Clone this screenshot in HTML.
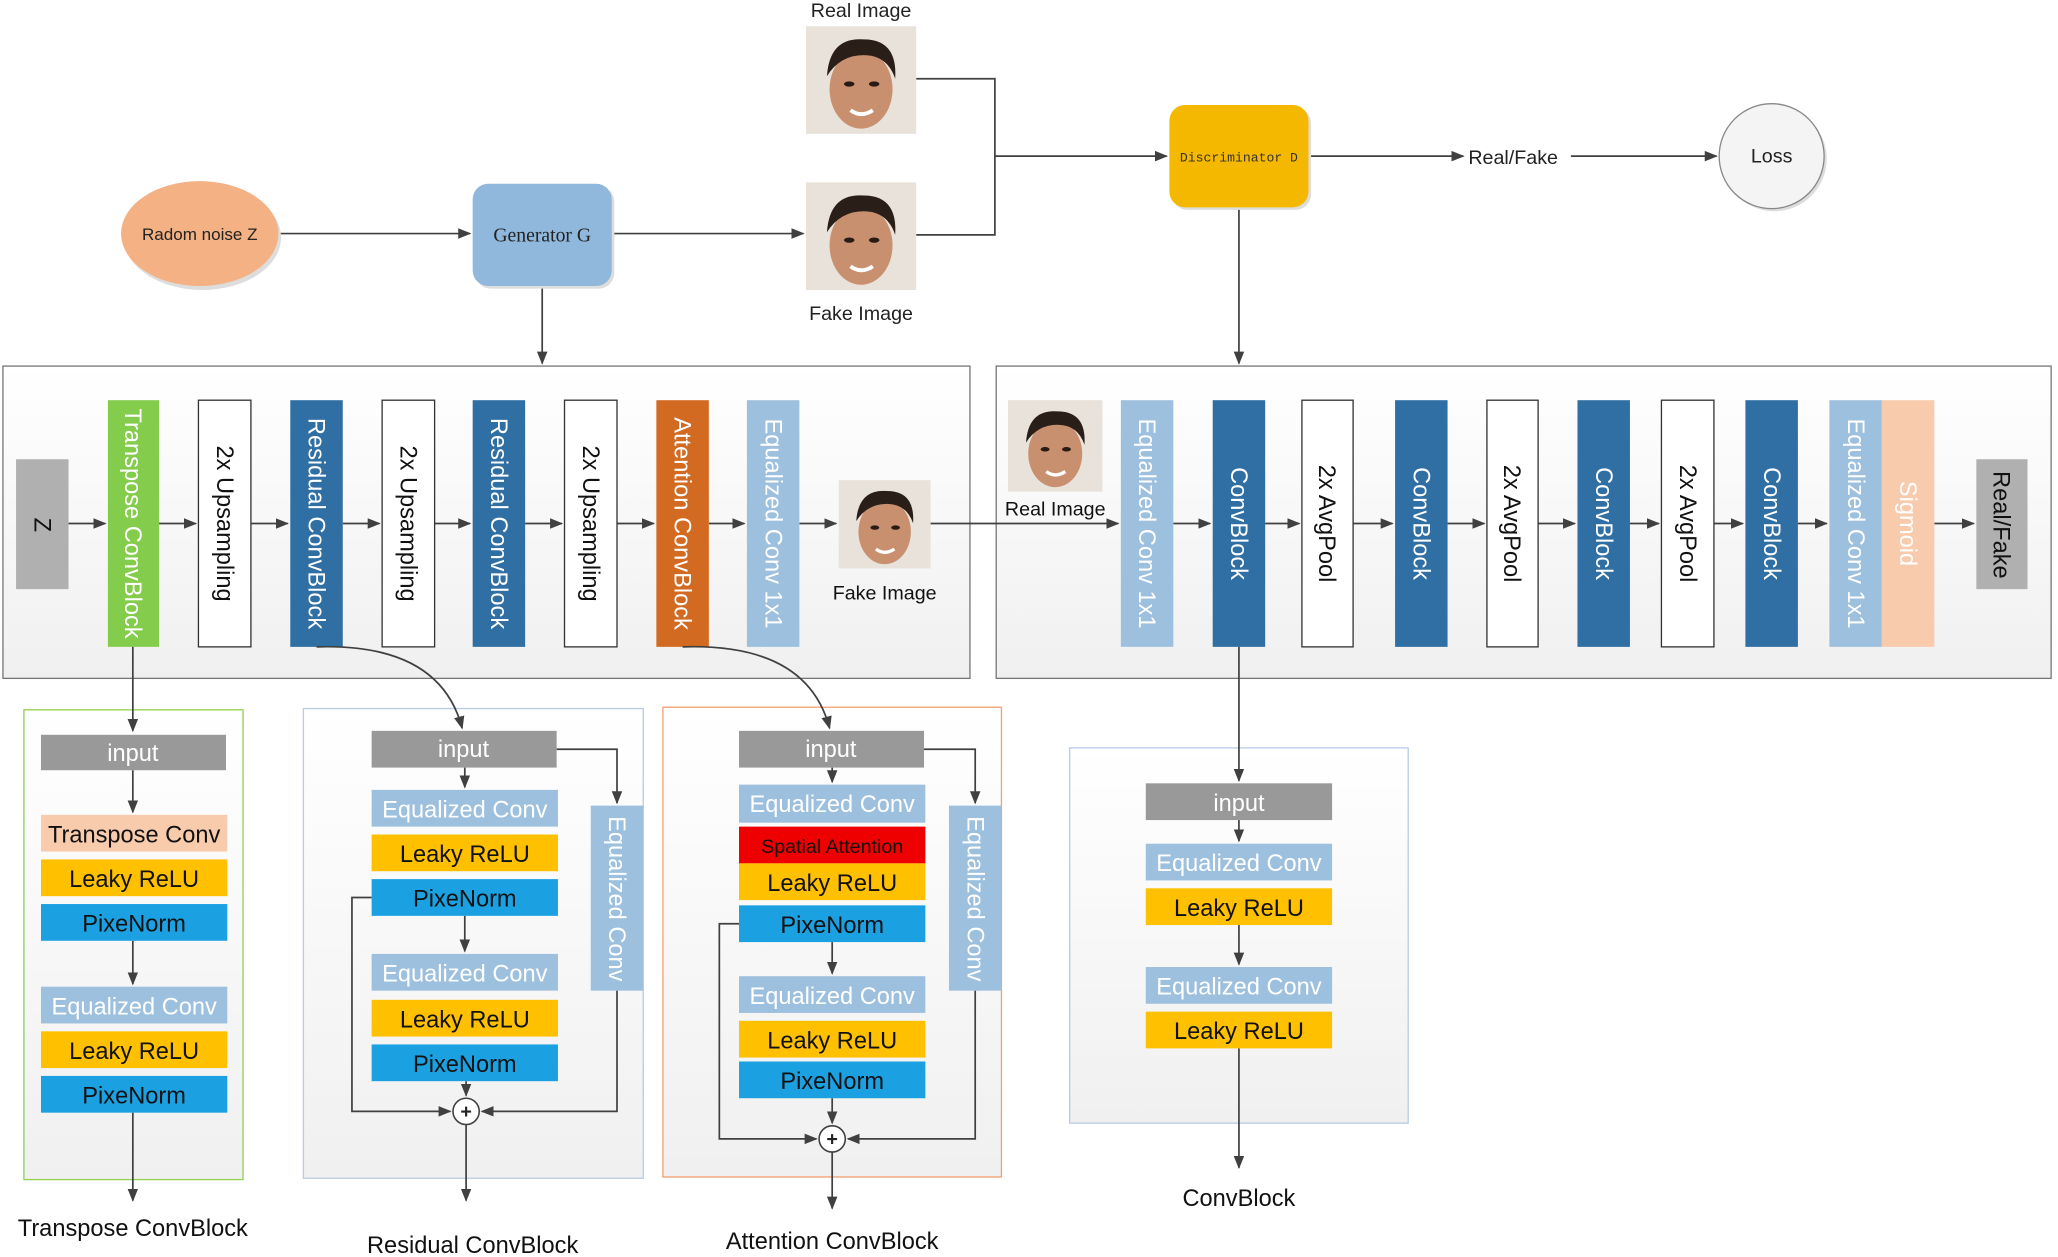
<!DOCTYPE html>
<html><head><meta charset="utf-8"><style>
html,body{margin:0;padding:0;background:#fff;}
svg{display:block;}
text{font-family:"Liberation Sans",sans-serif;}
</style></head><body>
<svg width="2058" height="1257" viewBox="0 0 1568 958" xmlns="http://www.w3.org/2000/svg">
<defs>
<marker id="a" markerWidth="10" markerHeight="10" refX="9" refY="5" orient="auto" markerUnits="userSpaceOnUse"><path d="M0,1 L10,5 L0,9 Z" fill="#404040"/></marker>
<linearGradient id="pg" x1="0" y1="0" x2="0" y2="1"><stop offset="0" stop-color="#ffffff"/><stop offset="1" stop-color="#f0f0f0"/></linearGradient>
<g id="face">
<rect x="0" y="0" width="84" height="82" fill="#e8e2da"/>
<ellipse cx="42" cy="48" rx="24" ry="30" fill="#c99070"/>
<path d="M16,38 Q18,8 44,10 Q70,10 68,40 Q62,22 44,22 Q26,22 16,38Z" fill="#2a1e18"/>
<ellipse cx="33" cy="44" rx="4" ry="2" fill="#2a1a14"/><ellipse cx="52" cy="44" rx="4" ry="2" fill="#2a1a14"/>
<path d="M34,64 Q42,70 51,64" stroke="#fff" stroke-width="3" fill="none"/>
</g>
</defs>
<g stroke="#404040" stroke-width="1.3" fill="none">
<line x1="212" y1="178" x2="358" y2="178" marker-end="url(#a)"/>
<line x1="466" y1="178" x2="612" y2="178" marker-end="url(#a)"/>
<polyline points="698,60 758,60 758,179 698,179"/>
<line x1="758" y1="119" x2="889" y2="119" marker-end="url(#a)"/>
<line x1="997" y1="119" x2="1115" y2="119" marker-end="url(#a)"/>
<line x1="1197" y1="119" x2="1308" y2="119" marker-end="url(#a)"/>
<line x1="413" y1="218" x2="413" y2="277" marker-end="url(#a)"/>
<line x1="944" y1="158" x2="944" y2="277" marker-end="url(#a)"/>
</g>
<ellipse cx="154" cy="181" rx="60" ry="40" fill="#ddd"/>
<ellipse cx="152" cy="178" rx="60" ry="40" fill="#f4b183"/>
<text x="152" y="183" font-size="13" text-anchor="middle" fill="#222">Radom noise Z</text>
<rect x="362" y="142" width="106" height="78" rx="12" fill="#ddd"/>
<rect x="360" y="140" width="106" height="78" rx="12" fill="#8fb8dc"/>
<text x="413" y="184" font-size="15" text-anchor="middle" fill="#222" style="font-family:'Liberation Serif',serif">Generator G</text>
<rect x="893" y="82" width="106" height="78" rx="12" fill="#ddd"/>
<rect x="891" y="80" width="106" height="78" rx="12" fill="#f5b800"/>
<text x="944" y="123" font-size="10" text-anchor="middle" fill="#333" style="font-family:'Liberation Mono',monospace">Discriminator D</text>
<circle cx="1352" cy="121" r="40" fill="#ddd"/>
<circle cx="1350" cy="119" r="40" fill="#f4f4f4" stroke="#888"/>
<text x="1350" y="124" font-size="15" text-anchor="middle" fill="#222">Loss</text>
<text x="1153" y="125" font-size="15" text-anchor="middle" fill="#222">Real/Fake</text>
<use href="#face" x="614" y="20"/>
<use href="#face" x="614" y="139"/>
<text x="656" y="13" font-size="15" text-anchor="middle" fill="#222">Real Image</text>
<text x="656" y="244" font-size="15" text-anchor="middle" fill="#222">Fake Image</text>

<rect x="2" y="279" width="737" height="238" fill="url(#pg)" stroke="#777"/>
<rect x="759" y="279" width="804" height="238" fill="url(#pg)" stroke="#777"/>
<g stroke="#404040" stroke-width="1.3" fill="none">
<line x1="52" y1="399" x2="80" y2="399" marker-end="url(#a)"/>
<line x1="121" y1="399" x2="149" y2="399" marker-end="url(#a)"/>
<line x1="191" y1="399" x2="219" y2="399" marker-end="url(#a)"/>
<line x1="261" y1="399" x2="289" y2="399" marker-end="url(#a)"/>
<line x1="331" y1="399" x2="358" y2="399" marker-end="url(#a)"/>
<line x1="400" y1="399" x2="428" y2="399" marker-end="url(#a)"/>
<line x1="470" y1="399" x2="498" y2="399" marker-end="url(#a)"/>
<line x1="540" y1="399" x2="567" y2="399" marker-end="url(#a)"/>
<line x1="609" y1="399" x2="637" y2="399" marker-end="url(#a)"/>
<line x1="709" y1="399" x2="852" y2="399" marker-end="url(#a)"/>
<line x1="894" y1="399" x2="922" y2="399" marker-end="url(#a)"/>
<line x1="964" y1="399" x2="990" y2="399" marker-end="url(#a)"/>
<line x1="1031" y1="399" x2="1061" y2="399" marker-end="url(#a)"/>
<line x1="1103" y1="399" x2="1131" y2="399" marker-end="url(#a)"/>
<line x1="1172" y1="399" x2="1200" y2="399" marker-end="url(#a)"/>
<line x1="1242" y1="399" x2="1264" y2="399" marker-end="url(#a)"/>
<line x1="1306" y1="399" x2="1328" y2="399" marker-end="url(#a)"/>
<line x1="1370" y1="399" x2="1392" y2="399" marker-end="url(#a)"/>
<line x1="1474" y1="399" x2="1504" y2="399" marker-end="url(#a)"/>
</g>
<g font-size="18">
<rect x="12" y="350" width="40" height="99" fill="#b0b0b0"/>
<text transform="translate(32,400) rotate(90)" text-anchor="middle" dy="6" fill="#111">Z</text>
<rect x="82" y="305" width="39" height="188" fill="#84cc4c"/>
<text transform="translate(101,399) rotate(90)" text-anchor="middle" dy="6" fill="#fff">Transpose ConvBlock</text>
<rect x="151" y="305" width="40" height="188" fill="#fff" stroke="#333"/>
<text transform="translate(171,399) rotate(90)" text-anchor="middle" dy="6" fill="#111">2x Upsampling</text>
<rect x="221" y="305" width="40" height="188" fill="#2f6fa3"/>
<text transform="translate(241,399) rotate(90)" text-anchor="middle" dy="6" fill="#fff">Residual ConvBlock</text>
<rect x="291" y="305" width="40" height="188" fill="#fff" stroke="#333"/>
<text transform="translate(311,399) rotate(90)" text-anchor="middle" dy="6" fill="#111">2x Upsampling</text>
<rect x="360" y="305" width="40" height="188" fill="#2f6fa3"/>
<text transform="translate(380,399) rotate(90)" text-anchor="middle" dy="6" fill="#fff">Residual ConvBlock</text>
<rect x="430" y="305" width="40" height="188" fill="#fff" stroke="#333"/>
<text transform="translate(450,399) rotate(90)" text-anchor="middle" dy="6" fill="#111">2x Upsampling</text>
<rect x="500" y="305" width="40" height="188" fill="#d26a22"/>
<text transform="translate(520,399) rotate(90)" text-anchor="middle" dy="6" fill="#fff">Attention ConvBlock</text>
<rect x="569" y="305" width="40" height="188" fill="#9dc0de"/>
<text transform="translate(589,399) rotate(90)" text-anchor="middle" dy="6" fill="#fff">Equalized Conv 1x1</text>
<use href="#face" transform="translate(639,366) scale(0.833,0.82)"/>
<text x="674" y="457" font-size="15" text-anchor="middle" fill="#111">Fake Image</text>
<use href="#face" transform="translate(768,305) scale(0.857,0.85)"/>
<text x="804" y="393" font-size="15" text-anchor="middle" fill="#111">Real Image</text>
<rect x="854" y="305" width="40" height="188" fill="#9dc0de"/>
<text transform="translate(874,399) rotate(90)" text-anchor="middle" dy="6" fill="#fff">Equalized Conv 1x1</text>
<rect x="924" y="305" width="40" height="188" fill="#2f6fa3"/>
<text transform="translate(944,399) rotate(90)" text-anchor="middle" dy="6" fill="#fff">ConvBlock</text>
<rect x="992" y="305" width="39" height="188" fill="#fff" stroke="#333"/>
<text transform="translate(1011,399) rotate(90)" text-anchor="middle" dy="6" fill="#111">2x AvgPool</text>
<rect x="1063" y="305" width="40" height="188" fill="#2f6fa3"/>
<text transform="translate(1083,399) rotate(90)" text-anchor="middle" dy="6" fill="#fff">ConvBlock</text>
<rect x="1133" y="305" width="39" height="188" fill="#fff" stroke="#333"/>
<text transform="translate(1152,399) rotate(90)" text-anchor="middle" dy="6" fill="#111">2x AvgPool</text>
<rect x="1202" y="305" width="40" height="188" fill="#2f6fa3"/>
<text transform="translate(1222,399) rotate(90)" text-anchor="middle" dy="6" fill="#fff">ConvBlock</text>
<rect x="1266" y="305" width="40" height="188" fill="#fff" stroke="#333"/>
<text transform="translate(1286,399) rotate(90)" text-anchor="middle" dy="6" fill="#111">2x AvgPool</text>
<rect x="1330" y="305" width="40" height="188" fill="#2f6fa3"/>
<text transform="translate(1350,399) rotate(90)" text-anchor="middle" dy="6" fill="#fff">ConvBlock</text>
<rect x="1394" y="305" width="40" height="188" fill="#9dc0de"/>
<text transform="translate(1414,399) rotate(90)" text-anchor="middle" dy="6" fill="#fff">Equalized Conv 1x1</text>
<rect x="1434" y="305" width="40" height="188" fill="#f8cbad"/>
<text transform="translate(1454,399) rotate(90)" text-anchor="middle" dy="6" fill="#fff">Sigmoid</text>
<rect x="1506" y="350" width="39" height="99" fill="#b0b0b0"/>
<text transform="translate(1525,400) rotate(90)" text-anchor="middle" dy="6" fill="#111">Real/Fake</text>
</g>

<rect x="18" y="541" width="167" height="358" fill="url(#pg)" stroke="#92d050"/>
<rect x="231" y="540" width="259" height="358" fill="url(#pg)" stroke="#b8cce4"/>
<rect x="505" y="539" width="258" height="358" fill="url(#pg)" stroke="#f4a070"/>
<rect x="815" y="570" width="258" height="286" fill="url(#pg)" stroke="#b8cce4"/>

<g stroke="#404040" stroke-width="1.3" fill="none">
<line x1="101" y1="493" x2="101" y2="557" marker-end="url(#a)"/>
<line x1="101" y1="587" x2="101" y2="619" marker-end="url(#a)"/>
<line x1="101" y1="717" x2="101" y2="750" marker-end="url(#a)"/>
<line x1="101" y1="848" x2="101" y2="915" marker-end="url(#a)"/>
<path d="M241,493 Q335,490 352,555" marker-end="url(#a)"/>
<line x1="354" y1="585" x2="354" y2="600" marker-end="url(#a)"/>
<line x1="354" y1="698" x2="354" y2="725" marker-end="url(#a)"/>
<polyline points="424,571 470,571 470,612" marker-end="url(#a)"/>
<polyline points="470,755 470,847 367,847" marker-end="url(#a)"/>
<polyline points="283,684 268,684 268,847 343,847" marker-end="url(#a)"/>
<line x1="355" y1="824" x2="355" y2="835" marker-end="url(#a)"/>
<line x1="355" y1="857" x2="355" y2="915" marker-end="url(#a)"/>
<path d="M520,493 Q615,490 632,555" marker-end="url(#a)"/>
<line x1="634" y1="585" x2="634" y2="596" marker-end="url(#a)"/>
<line x1="634" y1="718" x2="634" y2="742" marker-end="url(#a)"/>
<polyline points="704,571 743,571 743,612" marker-end="url(#a)"/>
<polyline points="743,755 743,868 646,868" marker-end="url(#a)"/>
<polyline points="563,704 548,704 548,868 622,868" marker-end="url(#a)"/>
<line x1="634" y1="837" x2="634" y2="856" marker-end="url(#a)"/>
<line x1="634" y1="878" x2="634" y2="921" marker-end="url(#a)"/>
<line x1="944" y1="493" x2="944" y2="595" marker-end="url(#a)"/>
<line x1="944" y1="625" x2="944" y2="641" marker-end="url(#a)"/>
<line x1="944" y1="705" x2="944" y2="735" marker-end="url(#a)"/>
<line x1="944" y1="799" x2="944" y2="890" marker-end="url(#a)"/>
</g>
<g stroke="#404040" stroke-width="1.2" fill="#fff">
<circle cx="355" cy="847" r="10"/><circle cx="634" cy="868" r="10"/>
</g>
<g font-size="15" text-anchor="middle" fill="#222" font-weight="bold">
<text x="355" y="852">+</text><text x="634" y="873">+</text>
</g>

<g font-size="18" text-anchor="middle">
<rect x="31" y="560" width="141" height="27" fill="#999"/><text x="101" y="580" fill="#fff">input</text>
<rect x="31" y="621" width="142" height="28" fill="#f8cbad"/><text x="102" y="642" fill="#111">Transpose Conv</text>
<rect x="31" y="655" width="142" height="28" fill="#ffc000"/><text x="102" y="676" fill="#111">Leaky ReLU</text>
<rect x="31" y="689" width="142" height="28" fill="#1ba1e2"/><text x="102" y="710" fill="#111">PixeNorm</text>
<rect x="31" y="752" width="142" height="28" fill="#9dc0de"/><text x="102" y="773" fill="#fff">Equalized Conv</text>
<rect x="31" y="786" width="142" height="28" fill="#ffc000"/><text x="102" y="807" fill="#111">Leaky ReLU</text>
<rect x="31" y="820" width="142" height="28" fill="#1ba1e2"/><text x="102" y="841" fill="#111">PixeNorm</text>
<rect x="283" y="557" width="141" height="28" fill="#999"/><text x="353" y="577" fill="#fff">input</text>
<rect x="283" y="602" width="142" height="28" fill="#9dc0de"/><text x="354" y="623" fill="#fff">Equalized Conv</text>
<rect x="283" y="636" width="142" height="28" fill="#ffc000"/><text x="354" y="657" fill="#111">Leaky ReLU</text>
<rect x="283" y="670" width="142" height="28" fill="#1ba1e2"/><text x="354" y="691" fill="#111">PixeNorm</text>
<rect x="283" y="727" width="142" height="28" fill="#9dc0de"/><text x="354" y="748" fill="#fff">Equalized Conv</text>
<rect x="283" y="762" width="142" height="28" fill="#ffc000"/><text x="354" y="783" fill="#111">Leaky ReLU</text>
<rect x="283" y="796" width="142" height="28" fill="#1ba1e2"/><text x="354" y="817" fill="#111">PixeNorm</text>
<rect x="450" y="614" width="40" height="141" fill="#9dc0de"/>
<text transform="translate(470,685) rotate(90)" dy="6" fill="#fff">Equalized Conv</text>
<rect x="563" y="557" width="141" height="28" fill="#999"/><text x="633" y="577" fill="#fff">input</text>
<rect x="563" y="598" width="142" height="29" fill="#9dc0de"/><text x="634" y="619" fill="#fff">Equalized Conv</text>
<rect x="563" y="630" width="142" height="28" fill="#ee0000"/><text x="634" y="650" fill="#111" font-size="15">Spatial Attention</text>
<rect x="563" y="658" width="142" height="28" fill="#ffc000"/><text x="634" y="679" fill="#111">Leaky ReLU</text>
<rect x="563" y="690" width="142" height="28" fill="#1ba1e2"/><text x="634" y="711" fill="#111">PixeNorm</text>
<rect x="563" y="744" width="142" height="28" fill="#9dc0de"/><text x="634" y="765" fill="#fff">Equalized Conv</text>
<rect x="563" y="778" width="142" height="28" fill="#ffc000"/><text x="634" y="799" fill="#111">Leaky ReLU</text>
<rect x="563" y="809" width="142" height="28" fill="#1ba1e2"/><text x="634" y="830" fill="#111">PixeNorm</text>
<rect x="723" y="614" width="40" height="141" fill="#9dc0de"/>
<text transform="translate(743,685) rotate(90)" dy="6" fill="#fff">Equalized Conv</text>
<rect x="873" y="597" width="142" height="28" fill="#999"/><text x="944" y="618" fill="#fff">input</text>
<rect x="873" y="643" width="142" height="28" fill="#9dc0de"/><text x="944" y="664" fill="#fff">Equalized Conv</text>
<rect x="873" y="677" width="142" height="28" fill="#ffc000"/><text x="944" y="698" fill="#111">Leaky ReLU</text>
<rect x="873" y="737" width="142" height="28" fill="#9dc0de"/><text x="944" y="758" fill="#fff">Equalized Conv</text>
<rect x="873" y="771" width="142" height="28" fill="#ffc000"/><text x="944" y="792" fill="#111">Leaky ReLU</text>
<text x="101" y="942" fill="#111">Transpose ConvBlock</text>
<text x="360" y="955" fill="#111">Residual ConvBlock</text>
<text x="634" y="952" fill="#111">Attention ConvBlock</text>
<text x="944" y="919" fill="#111">ConvBlock</text>
</g>
</svg>
</body></html>
